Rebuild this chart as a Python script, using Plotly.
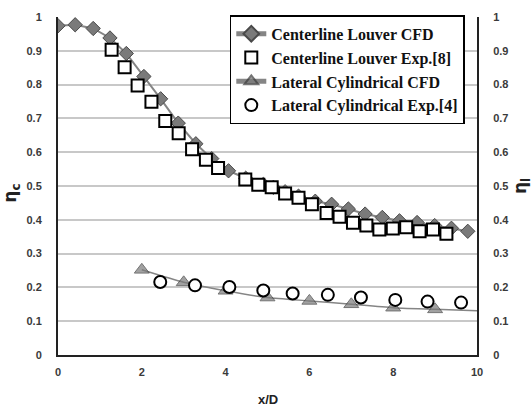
import plotly.graph_objects as go

# Centerline Louver CFD
cl_cfd_x = [0.0, 0.41, 0.84, 1.24, 1.63, 2.05, 2.45, 2.87, 3.29, 3.67, 4.07, 4.48, 4.9,
            5.14, 5.42, 5.74, 6.14, 6.53, 6.93, 7.33, 7.74, 8.15, 8.57, 8.99, 9.39, 9.78]
cl_cfd_y = [0.974, 0.977, 0.966, 0.938, 0.892, 0.824, 0.758, 0.686, 0.625, 0.581, 0.545, 0.523, 0.505,
            0.496, 0.483, 0.470, 0.455, 0.446, 0.432, 0.417, 0.407, 0.397, 0.392, 0.383, 0.375, 0.366]

# Centerline Louver Exp.[8]
cl_exp_x = [1.28, 1.59, 1.90, 2.23, 2.56, 2.88, 3.20, 3.53, 3.82, 4.47, 4.78, 5.10, 5.42, 5.74,
            6.06, 6.41, 6.72, 7.04, 7.36, 7.67, 7.99, 8.31, 8.63, 8.95, 9.27]
cl_exp_y = [0.903, 0.851, 0.797, 0.749, 0.692, 0.656, 0.609, 0.578, 0.553, 0.519, 0.504, 0.496, 0.478, 0.465,
            0.446, 0.420, 0.409, 0.391, 0.383, 0.371, 0.374, 0.378, 0.366, 0.371, 0.359]

# Lateral Cylindrical CFD (marker points, line continues to x=10)
lat_cfd_x = [2, 3, 4, 5, 6, 7, 8, 9, 10]
lat_cfd_y = [0.252, 0.215, 0.19, 0.17, 0.16, 0.15, 0.14, 0.135, 0.131]

# Lateral Cylindrical Exp.[4]
lat_exp_x = [2.44, 3.27, 4.09, 4.9, 5.6, 6.44, 7.23, 8.05, 8.82, 9.62]
lat_exp_y = [0.216, 0.206, 0.201, 0.191, 0.182, 0.178, 0.170, 0.163, 0.158, 0.155]

y_ticks = [0, 0.1, 0.2, 0.3, 0.4, 0.5, 0.6, 0.7, 0.8, 0.9, 1]
y_tick_text = ["0", "0.1", "0.2", "0.3", "0.4", "0.5", "0.6", "0.7", "0.8", "0.9", "1"]
x_ticks = [0, 2, 4, 6, 8, 10]

LINE_GRAY = "#858585"
FILL_GRAY = "#7a7a7a"

fig = go.Figure()

fig.add_trace(go.Scatter(
    x=cl_cfd_x, y=cl_cfd_y, mode="lines+markers", name="Centerline Louver CFD",
    line=dict(color=LINE_GRAY, width=2),
    marker=dict(symbol="diamond", size=11, color=FILL_GRAY, line=dict(color="#4a4a4a", width=1)),
))
fig.add_trace(go.Scatter(
    x=cl_exp_x, y=cl_exp_y, mode="markers", name="Centerline Louver Exp.[8]",
    marker=dict(symbol="square", size=12, color="white", line=dict(color="black", width=2)),
))
lat_sizes = [13] * (len(lat_cfd_x) - 1) + [0]
fig.add_trace(go.Scatter(
    x=lat_cfd_x, y=lat_cfd_y, mode="lines+markers", name="Lateral Cylindrical CFD",
    line=dict(color=LINE_GRAY, width=1.5, shape="spline", smoothing=0.6),
    marker=dict(symbol="triangle-up", size=lat_sizes, color=FILL_GRAY, line=dict(color="#3a3a3a", width=1)),
))
fig.add_trace(go.Scatter(
    x=lat_exp_x, y=lat_exp_y, mode="markers", name="Lateral Cylindrical Exp.[4]",
    marker=dict(symbol="circle", size=12, color="white", line=dict(color="black", width=2)),
))
# invisible trace to drive the right axis
fig.add_trace(go.Scatter(x=[0], y=[0], yaxis="y2", mode="markers",
                         marker=dict(opacity=0), showlegend=False, hoverinfo="skip"))

tfont = dict(family="Liberation Sans, Arial", size=11, color="#3a3a3a", weight="bold")

fig.update_layout(
    width=532, height=409,
    margin=dict(l=58, r=55, t=11, b=54),
    paper_bgcolor="white", plot_bgcolor="white",
    xaxis=dict(range=[0, 10], tickvals=x_ticks, showgrid=False, zeroline=False,
               showline=True, linecolor="#222", linewidth=2, tickfont=tfont,
               ticks="outside", ticklen=6, tickcolor="rgba(0,0,0,0)"),
    yaxis=dict(range=[0, 1], tickvals=y_ticks, ticktext=y_tick_text,
               showgrid=True, gridcolor="#c8c8c8", gridwidth=1.5, zeroline=False,
               showline=True, linecolor="#222", linewidth=2, tickfont=tfont,
               ticks="outside", ticklen=12, tickcolor="rgba(0,0,0,0)"),
    yaxis2=dict(range=[0, 1], tickvals=y_ticks, ticktext=y_tick_text, overlaying="y", side="right",
                showgrid=False, zeroline=False, showline=True, linecolor="#222", linewidth=2,
                tickfont=tfont, ticks="outside", ticklen=12, tickcolor="rgba(0,0,0,0)"),
    showlegend=True,
    legend=dict(x=0.41, y=1.005, xanchor="left", yanchor="top",
                bgcolor="white", bordercolor="black", borderwidth=1.5,
                font=dict(family="Liberation Serif, Times New Roman", size=16, color="#111", weight="bold"),
                tracegroupgap=0, itemwidth=30, itemsizing="constant"),
    annotations=[
        dict(text="x/D", x=0.5, y=-0.105, xref="paper", yref="paper", showarrow=False,
             xanchor="center", yanchor="top",
             font=dict(family="Liberation Sans, Arial", size=13, color="#222", weight="bold")),
        dict(text="η<sub>c</sub>", x=-0.11, y=0.48, xref="paper", yref="paper", showarrow=False,
             textangle=-90, xanchor="center", yanchor="middle",
             font=dict(family="DejaVu Sans", size=17, color="#222", weight="bold")),
        dict(text="η<sub>l</sub>", x=1.105, y=0.5, xref="paper", yref="paper", showarrow=False,
             textangle=-90, xanchor="center", yanchor="middle",
             font=dict(family="DejaVu Sans", size=17, color="#222", weight="bold")),
    ],
)

fig.write_html("out.html")
